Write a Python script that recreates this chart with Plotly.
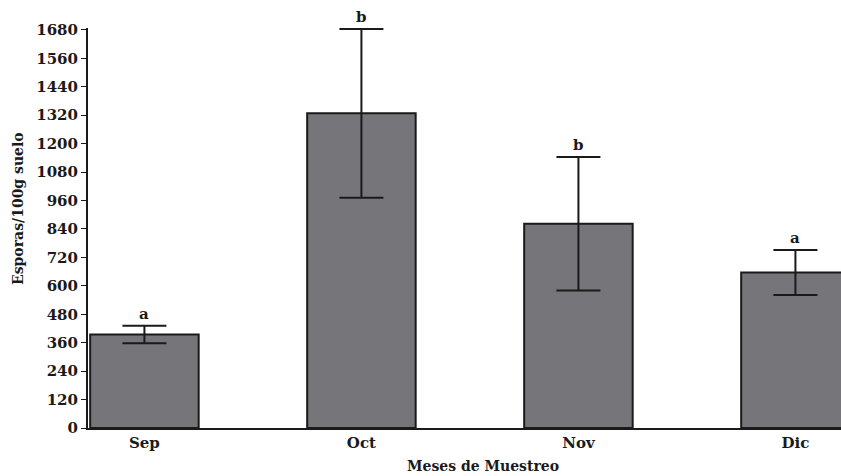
import plotly.graph_objects as go

# Spore counts per sampling month (mean ± error)
meses = ["Sep", "Oct", "Nov", "Dic"]
esporas = [395, 1328, 862, 656]
error = [37, 356, 282, 95]
letras = ["a", "b", "b", "a"]
y_ticks = list(range(0, 1681, 120))

FONT = "DejaVu Serif"
INK = "#1a1a1a"

fig = go.Figure()
fig.add_trace(go.Bar(
    x=list(range(len(meses))),
    y=esporas,
    width=0.5,
    marker=dict(color="#76767a", line=dict(color=INK, width=2)),
    error_y=dict(type="data", array=error, visible=True,
                 color=INK, thickness=2, width=22),
    showlegend=False,
))

# Significance letters above each error cap
for i, (v, e, l) in enumerate(zip(esporas, error, letras)):
    fig.add_annotation(x=i, y=v + e, text=f"<b>{l}</b>", showarrow=False,
                       yanchor="bottom", yshift=1,
                       font=dict(family=FONT, size=15, color=INK))

fig.add_annotation(xref="paper", yref="paper", x=-0.093, y=0.55,
                   text="<b>Esporas/100g suelo</b>", textangle=-90,
                   showarrow=False, xanchor="center", yanchor="middle",
                   font=dict(family=FONT, size=14, color=INK))
fig.add_annotation(xref="paper", yref="paper", x=0.525, y=-0.095,
                   text="<b>Meses de Muestreo</b>",
                   showarrow=False, xanchor="center", yanchor="middle",
                   font=dict(family=FONT, size=14, color=INK))

fig.update_layout(
    width=841, height=476,
    margin=dict(l=88, r=0, t=28, b=48),
    paper_bgcolor="white", plot_bgcolor="white",
    bargap=0.5,
    xaxis=dict(
        range=[-0.26, 3.21],
        tickvals=list(range(len(meses))), ticktext=[f"<b>{m}</b>" for m in meses],
        showline=True, linecolor=INK, linewidth=2,
        ticks="", showgrid=False, zeroline=False,
        tickfont=dict(family=FONT, size=15, color=INK),
    ),
    yaxis=dict(
        range=[0, 1688],
        tickvals=y_ticks, ticktext=[f"<b>{t}</b>" for t in y_ticks],
        showline=True, linecolor=INK, linewidth=2,
        ticks="outside", ticklen=5, tickcolor=INK, tickwidth=1,
        showgrid=False, zeroline=False,
        tickfont=dict(family=FONT, size=15, color=INK),
    ),
)

fig.write_html("out.html")
